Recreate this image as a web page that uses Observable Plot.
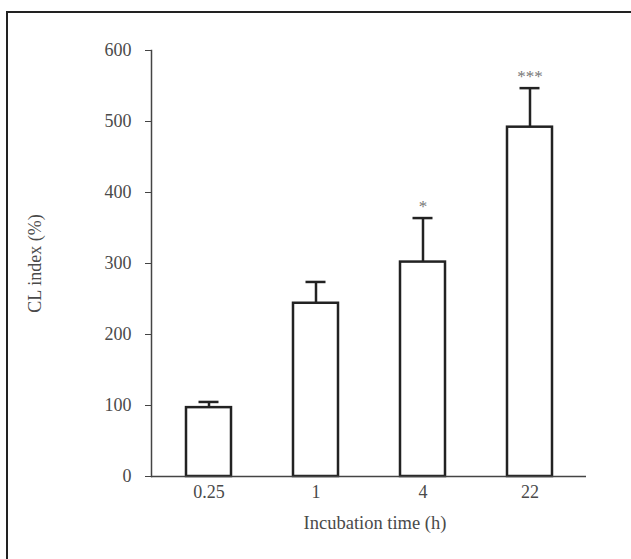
<!DOCTYPE html>
<html>
<head>
<meta charset="utf-8">
<script src="https://cdn.jsdelivr.net/npm/d3@7"></script>
<script src="https://cdn.jsdelivr.net/npm/@observablehq/plot@0.6"></script>
<style>
  html, body { margin: 0; padding: 0; background: #fff; overflow: hidden; }
  #wrap { position: relative; width: 631px; height: 559px; }
  #frame { position: absolute; left: 6px; top: 11px; width: 640px; height: 560px;
           border-top: 2px solid #222; border-left: 2px solid #222; box-sizing: border-box; }
  #chart { position: absolute; left: 0; top: 0; }
</style>
</head>
<body>
<div id="wrap"><div id="frame"></div><div id="chart"></div></div>
<script>
const times = ["0.25", "1", "4", "22"];
const means = [97, 244, 302, 492];
const errors = [8, 30, 62, 55];
const marks = ["", "", "*", "***"];
const yTicks = [0, 100, 200, 300, 400, 500, 600];

const data = times.map((t, i) => ({time: t, value: means[i], upper: means[i] + errors[i], mark: marks[i]}));

const font = "'Liberation Serif', 'DejaVu Serif', serif";
const ink = "#222";
const txt = "#4a4a4a";
const fs = 18;

const chart = Plot.plot({
  width: 631,
  height: 559,
  marginLeft: 151,
  marginRight: 45,
  marginTop: 50,
  marginBottom: 83,
  style: {fontFamily: font, fontSize: fs + "px", color: txt, background: "transparent"},
  x: {domain: times, paddingInner: 0.583, paddingOuter: 0.306, label: null},
  y: {domain: [0, 600], label: null},
  marks: [
    Plot.frame({anchor: "left", stroke: "#444", strokeWidth: 1.5}),
    Plot.axisY({ticks: yTicks, tickSize: 6, tickPadding: 14, stroke: "#444", fill: txt, fontSize: fs, fontFamily: font, label: null}),
    Plot.axisX({tickSize: 0, tickPadding: 9, fill: txt, fontSize: fs, fontFamily: font, label: null}),
    Plot.ruleX(data, {x: "time", y1: "value", y2: "upper", stroke: ink, strokeWidth: 2.5}),
    Plot.tickY(data, {x: "time", y: "upper", stroke: ink, strokeWidth: 2.5, insetLeft: 12.5, insetRight: 12.5}),
    Plot.barY(data, {x: "time", y: "value", fill: "white", stroke: ink, strokeWidth: 2.5}),
    Plot.ruleY([0], {stroke: "#444", strokeWidth: 1.5}),
    Plot.text(data, {x: "time", y: "upper", text: "mark", dy: -12, fill: "#777", fontSize: 17, fontFamily: font}),
    Plot.text(["CL index (%)"], {frameAnchor: "left", textAnchor: "middle", dx: -116, rotate: -90, fill: txt, fontSize: fs, fontFamily: font}),
    Plot.text(["Incubation time (h)"], {frameAnchor: "bottom", dx: 6, dy: 52, fill: txt, fontSize: 18.5, fontFamily: font})
  ]
});
document.getElementById("chart").appendChild(chart);
</script>
</body>
</html>
